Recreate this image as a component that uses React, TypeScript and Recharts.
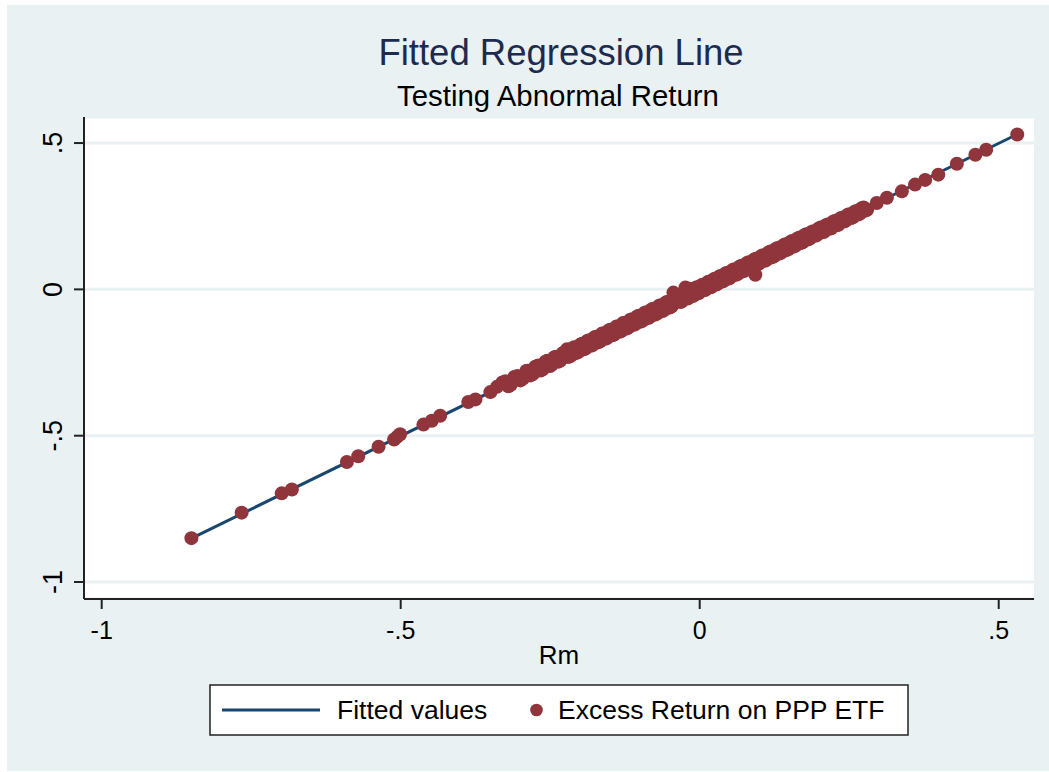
import { ScatterChart, Scatter, XAxis, YAxis, CartesianGrid, Label } from "recharts";

// Rm (market excess return) and the fund's excess return
const rm = [
  -0.85, -0.766, -0.699, -0.682, -0.59, -0.571, -0.537, -0.511, -0.506, -0.501,
  -0.462, -0.448, -0.434, -0.387, -0.375, -0.35, -0.339, -0.325, -0.316, -0.305,
  -0.296, -0.288, -0.279, -0.27, -0.262, -0.255, -0.247, -0.24, -0.233, -0.226,
  -0.222, -0.22, -0.213, -0.207, -0.2, -0.194, -0.188, -0.182, -0.176, -0.17,
  -0.164, -0.158, -0.152, -0.146, -0.14, -0.134, -0.128, -0.122, -0.116, -0.11,
  -0.104, -0.098, -0.092, -0.086, -0.08, -0.074, -0.068, -0.062, -0.056, -0.05,
  -0.044, -0.04, -0.045, -0.035, -0.03, -0.025, -0.024, -0.018, -0.02, -0.015,
  -0.01, -0.005, 0.0, 0.005, 0.01, 0.015, 0.02, 0.025, 0.03, 0.035,
  0.04, 0.046, 0.052, 0.058, 0.064, 0.07, 0.076, 0.082, 0.088, 0.093,
  0.094, 0.1, 0.106, 0.112, 0.118, 0.124, 0.13, 0.136, 0.142, 0.148,
  0.154, 0.16, 0.166, 0.172, 0.178, 0.184, 0.19, 0.196, 0.202, 0.208,
  0.214, 0.22, 0.226, 0.232, 0.238, 0.244, 0.25, 0.256, 0.262, 0.268,
  0.274, 0.28, 0.296, 0.313, 0.338, 0.36, 0.377, 0.399, 0.43, 0.461,
  0.479, 0.531,
];

const excessReturn = [
  -0.85, -0.763, -0.697, -0.684, -0.59, -0.57, -0.538, -0.513, -0.504, -0.495,
  -0.462, -0.449, -0.432, -0.385, -0.376, -0.351, -0.333, -0.314, -0.326, -0.296,
  -0.306, -0.278, -0.289, -0.26, -0.272, -0.244, -0.256, -0.23, -0.243, -0.215,
  -0.205, -0.231, -0.202, -0.218, -0.189, -0.205, -0.176, -0.193, -0.164, -0.181,
  -0.152, -0.169, -0.14, -0.157, -0.128, -0.145, -0.115, -0.134, -0.104, -0.121,
  -0.092, -0.11, -0.08, -0.098, -0.068, -0.086, -0.056, -0.074, -0.044, -0.062,
  -0.011, -0.02, -0.052, -0.022, -0.041, -0.012, 0.006, 0.002, -0.031, -0.004,
  -0.021, 0.007, -0.009, 0.016, 0.0, 0.026, 0.009, 0.036, 0.019, 0.046,
  0.029, 0.057, 0.042, 0.069, 0.053, 0.081, 0.066, 0.093, 0.078, 0.05,
  0.105, 0.09, 0.117, 0.101, 0.129, 0.113, 0.141, 0.125, 0.153, 0.137,
  0.165, 0.149, 0.176, 0.161, 0.188, 0.174, 0.199, 0.186, 0.211, 0.197,
  0.222, 0.209, 0.234, 0.221, 0.245, 0.234, 0.257, 0.246, 0.268, 0.259,
  0.28, 0.272, 0.295, 0.313, 0.335, 0.358, 0.374, 0.392, 0.429, 0.46,
  0.477, 0.529,
];

// more observations in the dense middle of the cloud
const rm2 = [
  -0.33, -0.32, -0.31, -0.3, -0.29, -0.283, -0.275, -0.266, -0.258, -0.25,
  -0.243, -0.236, -0.229, -0.216, -0.21, -0.203, -0.197, -0.191, -0.185, -0.179,
  -0.173, -0.167, -0.161, -0.155, -0.149, -0.143, -0.137, -0.131, -0.125, -0.119,
  -0.113, -0.107, -0.101, -0.095, -0.089, -0.083, -0.077, -0.071, -0.065, -0.059,
  -0.053, -0.047, -0.038, -0.032, -0.027, -0.012, -0.007, -0.002, 0.003, 0.008,
  0.013, 0.018, 0.023, 0.028, 0.033, 0.038, 0.043, 0.049, 0.055, 0.061,
  0.067, 0.073, 0.079, 0.085, 0.091, 0.097, 0.103, 0.109, 0.115, 0.121,
  0.127, 0.133, 0.139, 0.145, 0.151, 0.157, 0.163, 0.169, 0.175, 0.181,
  0.187, 0.193, 0.199, 0.205, 0.211, 0.217, 0.223, 0.229, 0.235, 0.241,
  0.247, 0.253, 0.259, 0.265, 0.271, 0.277,
];

const excessReturn2 = [
  -0.318, -0.331, -0.299, -0.311, -0.279, -0.294, -0.264, -0.277, -0.247, -0.262,
  -0.232, -0.247, -0.218, -0.228, -0.198, -0.214, -0.186, -0.202, -0.174, -0.19,
  -0.162, -0.178, -0.15, -0.166, -0.138, -0.154, -0.126, -0.142, -0.114, -0.13,
  -0.102, -0.118, -0.09, -0.106, -0.078, -0.094, -0.066, -0.082, -0.054, -0.07,
  -0.042, -0.058, -0.027, -0.043, -0.016, -0.023, 0.004, -0.013, 0.014, -0.003,
  0.024, 0.007, 0.034, 0.017, 0.044, 0.027, 0.054, 0.037, 0.066, 0.05,
  0.078, 0.062, 0.09, 0.074, 0.102, 0.086, 0.114, 0.098, 0.126, 0.11,
  0.138, 0.122, 0.149, 0.134, 0.161, 0.146, 0.173, 0.158, 0.185, 0.17,
  0.196, 0.183, 0.208, 0.195, 0.219, 0.207, 0.231, 0.219, 0.242, 0.232,
  0.254, 0.244, 0.265, 0.256, 0.277, 0.269,
];

// fitted regression line end points
const fittedRm = [-0.85, 0.531];
const fittedValues = [-0.851, 0.53];

const xTicks = [-1, -0.5, 0, 0.5];
const yTicks = [-1, -0.5, 0, 0.5];

const points = [
  ...rm.map((x, i) => ({ x, y: excessReturn[i] })),
  ...rm2.map((x, i) => ({ x, y: excessReturn2[i] })),
];
const fitted = fittedRm.map((x, i) => ({ x, y: fittedValues[i] }));

const FONT = "'Liberation Sans', Arial, sans-serif";
const BG = "#e9f1f3";
const MAROON = "#90353b";
const NAVY = "#1a476f";

// Stata style: drop the leading zero
const fmt = (v: number) => {
  if (v === 0) return "0";
  return String(v).replace(/^(-?)0\./, "$1.");
};

const YTick = (props: any) => {
  const { x, y, payload } = props;
  const tx = x - 12;
  return (
    <text
      x={tx}
      y={y}
      transform={`rotate(-90, ${tx}, ${y})`}
      textAnchor="middle"
      fontSize={27}
      fontFamily={FONT}
      fill="#000"
    >
      {fmt(payload.value)}
    </text>
  );
};

export default function App() {
  return (
    <div
      style={{
        position: "absolute",
        left: 0,
        top: 0,
        width: 1049,
        height: 772,
        background: "#fff",
        overflow: "hidden",
      }}
    >
      <div
        style={{
          position: "absolute",
          left: 7,
          top: 5,
          width: 1042,
          height: 766,
          background: BG,
        }}
      />
      <div style={{ position: "absolute", left: 0, top: 0 }}>
        <ScatterChart
          width={1049}
          height={772}
          margin={{ top: 117, right: 15, bottom: 0, left: 0 }}
        >
          <CartesianGrid
            vertical={false}
            stroke={BG}
            strokeWidth={3}
            fill="#fff"
          />
          <XAxis
            type="number"
            dataKey="x"
            domain={[-1.0296, 0.559]}
            ticks={xTicks}
            allowDataOverflow
            height={173}
            tickFormatter={fmt}
            tick={{ fontSize: 25, fontFamily: FONT, fill: "#000" }}
            tickSize={10}
            tickMargin={12}
            axisLine={{ stroke: "#222", strokeWidth: 2 }}
            tickLine={{ stroke: "#222", strokeWidth: 2 }}
          >
            <Label
              value="Rm"
              position="insideTop"
              offset={47}
              fontSize={26}
              fontFamily={FONT}
              fill="#000"
            />
          </XAxis>
          <YAxis
            type="number"
            dataKey="y"
            domain={[-1.058, 0.589]}
            ticks={yTicks}
            allowDataOverflow
            width={84}
            tick={<YTick />}
            tickSize={10}
            tickMargin={0}
            axisLine={{ stroke: "#222", strokeWidth: 2 }}
            tickLine={{ stroke: "#222", strokeWidth: 2 }}
          />
          <Scatter
            data={fitted}
            line={{ stroke: NAVY, strokeWidth: 3 }}
            shape={() => <g />}
            isAnimationActive={false}
          />
          <Scatter
            data={points}
            shape={(p: any) => (
              <circle cx={p.cx} cy={p.cy} r={7} fill={MAROON} />
            )}
            isAnimationActive={false}
          />
        </ScatterChart>
      </div>
      <svg
        width={1049}
        height={772}
        style={{ position: "absolute", left: 0, top: 0, pointerEvents: "none" }}
      >
        <text
          x={561}
          y={65}
          textAnchor="middle"
          fontSize={36.5}
          fontFamily={FONT}
          fill="#1c2b4e"
        >
          Fitted Regression Line
        </text>
        <text
          x={558}
          y={106}
          textAnchor="middle"
          fontSize={29.4}
          fontFamily={FONT}
          fill="#000"
        >
          Testing Abnormal Return
        </text>
        <rect
          x={210}
          y={685}
          width={698}
          height={50}
          fill="#fff"
          stroke="#222"
          strokeWidth={1.5}
        />
        <line x1={222} y1={710} x2={320} y2={710} stroke={NAVY} strokeWidth={3} />
        <text x={337} y={719} fontSize={26.5} fontFamily={FONT} fill="#000">
          Fitted values
        </text>
        <circle cx={536.5} cy={710} r={6.3} fill={MAROON} />
        <text x={558} y={719} fontSize={26.5} fontFamily={FONT} fill="#000">
          Excess Return on PPP ETF
        </text>
      </svg>
    </div>
  );
}
